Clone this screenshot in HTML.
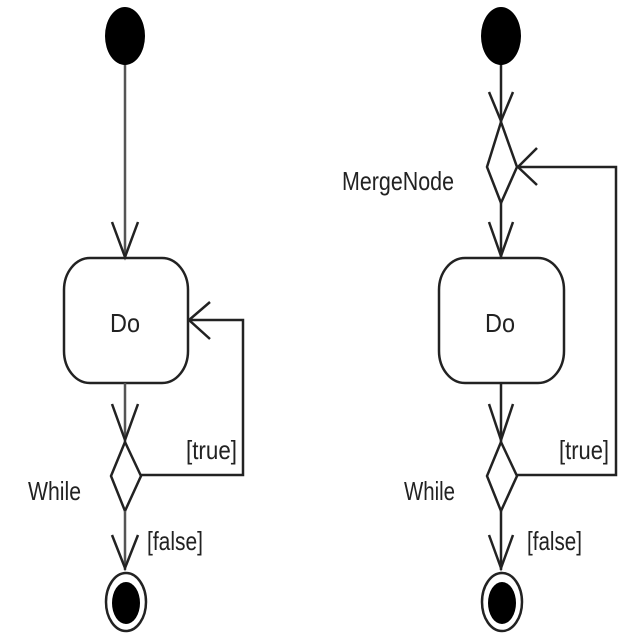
<!DOCTYPE html>
<html><head><style>html,body{margin:0;padding:0;background:#fff;}svg{display:block;}</style></head>
<body>
<svg width="640" height="640" viewBox="0 0 640 640" xmlns="http://www.w3.org/2000/svg">
<g fill="none" stroke="#222" stroke-width="2.5">
<!-- LEFT -->
<line x1="125" y1="60" x2="125" y2="258" stroke="#555"/>
<polyline points="112,222 125,257 138,222"/>
<rect x="64" y="258" width="124" height="125" rx="26" ry="32"/>
<line x1="125" y1="383" x2="125" y2="442" stroke="#555"/>
<polyline points="112,404 125,440 138,404"/>
<polygon points="125,442 141,476 125,511 111,476"/>
<polyline points="141,475 243,475 243,320 188,320"/>
<polyline points="210,302 189,320 210,339"/>
<line x1="125" y1="511" x2="125" y2="570" stroke="#555"/>
<polyline points="112,535 125,568 138,535"/>
<ellipse cx="126" cy="602" rx="20" ry="29"/>
<!-- RIGHT -->
<line x1="501" y1="60" x2="501" y2="122"/>
<polyline points="489,92 501,121 513,92"/>
<polygon points="501,122 517,167 501,203 487,167"/>
<polyline points="517,167 616,167 616,475 517,475"/>
<polyline points="537,148 518,167 537,185"/>
<line x1="501" y1="203" x2="501" y2="258"/>
<polyline points="489,222 501,256 513,222"/>
<rect x="439" y="258" width="125" height="125" rx="26" ry="32"/>
<line x1="501" y1="383" x2="501" y2="442"/>
<polyline points="489,404 501,440 513,404"/>
<polygon points="501,442 517,476 501,511 487,476"/>
<line x1="501" y1="511" x2="501" y2="570"/>
<polyline points="489,535 501,568 513,535"/>
<ellipse cx="502" cy="602" rx="20" ry="29"/>
</g>
<g fill="#000">
<ellipse cx="125" cy="36" rx="20" ry="29"/>
<ellipse cx="501" cy="36" rx="20" ry="29"/>
<ellipse cx="126" cy="603" rx="14" ry="21"/>
<ellipse cx="502" cy="603" rx="14" ry="21"/>
</g>
<g font-family="Liberation Sans, sans-serif" font-size="26" fill="#222">
<text x="110" y="332" textLength="30" lengthAdjust="spacingAndGlyphs">Do</text>
<text x="485" y="332" textLength="30" lengthAdjust="spacingAndGlyphs">Do</text>
<text x="28" y="500" textLength="53" lengthAdjust="spacingAndGlyphs">While</text>
<text x="404" y="500" textLength="51" lengthAdjust="spacingAndGlyphs">While</text>
<text x="186" y="459" textLength="51" lengthAdjust="spacingAndGlyphs">[true]</text>
<text x="559" y="459" textLength="50" lengthAdjust="spacingAndGlyphs">[true]</text>
<text x="147" y="550" textLength="56" lengthAdjust="spacingAndGlyphs">[false]</text>
<text x="527" y="550" textLength="55" lengthAdjust="spacingAndGlyphs">[false]</text>
<text x="342" y="190" textLength="112" lengthAdjust="spacingAndGlyphs">MergeNode</text>
</g>
</svg>
</body></html>
